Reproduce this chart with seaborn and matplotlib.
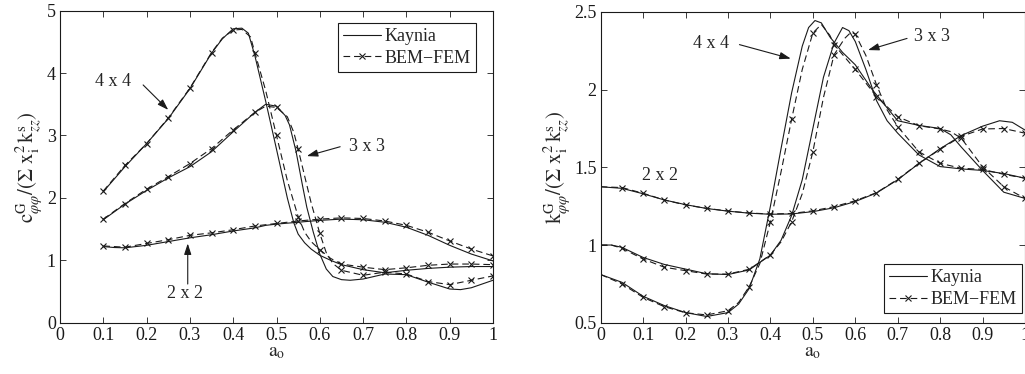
import numpy as np
import pandas as pd
import seaborn as sns
import matplotlib
matplotlib.use("Agg")
import matplotlib.pyplot as plt
from matplotlib.lines import Line2D

# ---------------- data: left panel (damping) ----------------
L4k_x = [0.10, 0.15, 0.20, 0.25, 0.30, 0.35, 0.375, 0.40, 0.42, 0.435, 0.45, 0.475, 0.50, 0.525, 0.54, 0.55, 0.565, 0.58, 0.60, 0.625, 0.65, 0.70, 0.75, 0.80, 0.85, 0.90, 0.95, 1.00]
L4k_y = [2.10, 2.50, 2.87, 3.27, 3.75, 4.32, 4.55, 4.71, 4.72, 4.64, 4.28, 3.55, 2.78, 2.00, 1.60, 1.42, 1.28, 1.18, 1.08, 1.00, 0.93, 0.85, 0.80, 0.84, 0.87, 0.89, 0.90, 0.90]
L4b_x = [0.10, 0.15, 0.20, 0.25, 0.30, 0.35, 0.375, 0.40, 0.42, 0.44, 0.45, 0.475, 0.50, 0.525, 0.55, 0.565, 0.58, 0.60, 0.625, 0.65, 0.70, 0.75, 0.80, 0.85, 0.90, 0.95, 1.00]
L4b_y = [2.11, 2.52, 2.87, 3.28, 3.76, 4.33, 4.56, 4.69, 4.70, 4.58, 4.33, 3.72, 3.00, 2.28, 1.70, 1.45, 1.30, 1.17, 1.03, 0.94, 0.89, 0.85, 0.88, 0.92, 0.94, 0.94, 0.93]

L3k_x = [0.10, 0.15, 0.20, 0.25, 0.30, 0.35, 0.40, 0.45, 0.475, 0.50, 0.52, 0.53, 0.545, 0.56, 0.57, 0.585, 0.60, 0.615, 0.63, 0.65, 0.67, 0.70, 0.75, 0.80, 0.85, 0.90, 0.925, 0.95, 1.00]
L3k_y = [1.65, 1.90, 2.12, 2.32, 2.50, 2.74, 3.06, 3.37, 3.50, 3.47, 3.32, 3.17, 2.75, 2.20, 1.85, 1.45, 1.10, 0.86, 0.74, 0.69, 0.68, 0.70, 0.78, 0.77, 0.65, 0.54, 0.53, 0.56, 0.68]
L3b_x = [0.10, 0.15, 0.20, 0.25, 0.30, 0.35, 0.40, 0.45, 0.475, 0.50, 0.525, 0.54, 0.55, 0.565, 0.58, 0.60, 0.615, 0.63, 0.65, 0.70, 0.75, 0.80, 0.85, 0.90, 0.95, 1.00]
L3b_y = [1.66, 1.91, 2.14, 2.34, 2.55, 2.79, 3.09, 3.37, 3.47, 3.45, 3.30, 3.05, 2.78, 2.35, 1.92, 1.43, 1.12, 0.95, 0.84, 0.76, 0.81, 0.78, 0.66, 0.61, 0.68, 0.75]

L2k_x = [0.10, 0.125, 0.15, 0.20, 0.25, 0.30, 0.35, 0.40, 0.45, 0.475, 0.50, 0.55, 0.60, 0.65, 0.70, 0.75, 0.80, 0.85, 0.90, 0.95, 1.00]
L2k_y = [1.22, 1.205, 1.20, 1.24, 1.30, 1.36, 1.41, 1.47, 1.52, 1.56, 1.58, 1.61, 1.64, 1.66, 1.65, 1.61, 1.53, 1.40, 1.24, 1.10, 0.99]
L2b_x = [0.10, 0.15, 0.20, 0.25, 0.30, 0.35, 0.40, 0.45, 0.50, 0.55, 0.60, 0.65, 0.70, 0.75, 0.80, 0.85, 0.90, 0.95, 1.00]
L2b_y = [1.23, 1.21, 1.27, 1.33, 1.40, 1.44, 1.49, 1.55, 1.59, 1.63, 1.66, 1.68, 1.67, 1.63, 1.56, 1.45, 1.31, 1.18, 1.07]

# ---------------- data: right panel (stiffness) ----------------
R4k_x = [0.0, 0.05, 0.10, 0.15, 0.20, 0.25, 0.30, 0.325, 0.35, 0.375, 0.40, 0.425, 0.45, 0.475, 0.49, 0.505, 0.52, 0.54, 0.57, 0.60, 0.64, 0.70, 0.75, 0.80, 0.825, 0.85, 0.90, 0.95, 1.00]
R4k_y = [0.81, 0.76, 0.67, 0.61, 0.565, 0.54, 0.565, 0.62, 0.72, 0.91, 1.25, 1.62, 1.98, 2.28, 2.40, 2.445, 2.43, 2.34, 2.24, 2.16, 2.00, 1.80, 1.77, 1.75, 1.71, 1.63, 1.48, 1.34, 1.30]
R4b_x = [0.0, 0.05, 0.10, 0.15, 0.20, 0.25, 0.30, 0.325, 0.35, 0.375, 0.40, 0.425, 0.45, 0.475, 0.50, 0.52, 0.54, 0.55, 0.60, 0.65, 0.70, 0.75, 0.80, 0.825, 0.85, 0.90, 0.95, 1.00]
R4b_y = [0.81, 0.75, 0.663, 0.603, 0.564, 0.55, 0.577, 0.63, 0.732, 0.88, 1.15, 1.47, 1.81, 2.13, 2.365, 2.42, 2.35, 2.29, 2.13, 1.955, 1.826, 1.768, 1.747, 1.73, 1.687, 1.504, 1.375, 1.30]

R3k_x = [0.0, 0.025, 0.05, 0.10, 0.15, 0.20, 0.25, 0.30, 0.35, 0.40, 0.425, 0.45, 0.475, 0.50, 0.525, 0.55, 0.57, 0.585, 0.60, 0.625, 0.65, 0.675, 0.70, 0.725, 0.75, 0.80, 0.85, 0.90, 0.95, 1.00]
R3k_y = [1.0, 1.0, 0.985, 0.92, 0.875, 0.845, 0.815, 0.81, 0.84, 0.935, 1.03, 1.19, 1.42, 1.75, 2.08, 2.30, 2.40, 2.38, 2.31, 2.13, 1.93, 1.80, 1.72, 1.65, 1.58, 1.505, 1.49, 1.48, 1.46, 1.43]
R3b_x = [0.0, 0.025, 0.05, 0.10, 0.15, 0.20, 0.25, 0.30, 0.35, 0.40, 0.425, 0.45, 0.475, 0.50, 0.525, 0.55, 0.575, 0.59, 0.60, 0.625, 0.65, 0.675, 0.70, 0.75, 0.80, 0.85, 0.90, 0.95, 1.00]
R3b_y = [1.0, 1.0, 0.979, 0.91, 0.857, 0.835, 0.813, 0.813, 0.844, 0.936, 1.02, 1.15, 1.33, 1.60, 1.95, 2.225, 2.33, 2.37, 2.358, 2.22, 2.032, 1.87, 1.762, 1.60, 1.526, 1.494, 1.487, 1.455, 1.43]

R2k_x = [0.0, 0.05, 0.10, 0.15, 0.20, 0.25, 0.30, 0.35, 0.40, 0.45, 0.50, 0.55, 0.60, 0.65, 0.70, 0.75, 0.80, 0.85, 0.90, 0.94, 0.97, 1.00]
R2k_y = [1.375, 1.365, 1.33, 1.29, 1.26, 1.235, 1.218, 1.205, 1.198, 1.20, 1.215, 1.24, 1.28, 1.335, 1.42, 1.525, 1.62, 1.705, 1.765, 1.80, 1.79, 1.74]
R2b_x = [0.0, 0.05, 0.10, 0.15, 0.20, 0.25, 0.30, 0.35, 0.40, 0.45, 0.50, 0.55, 0.60, 0.65, 0.70, 0.75, 0.80, 0.85, 0.90, 0.95, 1.00]
R2b_y = [1.375, 1.37, 1.333, 1.29, 1.258, 1.236, 1.219, 1.206, 1.20, 1.203, 1.22, 1.247, 1.285, 1.337, 1.423, 1.526, 1.616, 1.70, 1.747, 1.75, 1.72]

x_ticks = [0, 0.1, 0.2, 0.3, 0.4, 0.5, 0.6, 0.7, 0.8, 0.9, 1]
x_tick_labels = ["0", "0.1", "0.2", "0.3", "0.4", "0.5", "0.6", "0.7", "0.8", "0.9", "1"]
left_y_ticks = [0, 1, 2, 3, 4, 5]
left_y_labels = ["0", "1", "2", "3", "4", "5"]
right_y_ticks = [0.5, 1, 1.5, 2, 2.5]
right_y_labels = ["0.5", "1", "1.5", "2", "2.5"]
series_labels = ["Kaynia", "BEM\u2212FEM"]
left_ylabel = r"$\mathrm{c}^{\mathrm{G}}_{\varphi\varphi}/(\Sigma\ \mathrm{x}^{2}_{\mathrm{i}}\,\mathrm{k}^{\mathrm{s}}_{zz})$"
right_ylabel = r"$\mathrm{k}^{\mathrm{G}}_{\varphi\varphi}/(\Sigma\ \mathrm{x}^{2}_{\mathrm{i}}\,\mathrm{k}^{\mathrm{s}}_{zz})$"
xlabel = r"$\mathrm{a}_{\mathrm{o}}$"

# ---------------- style ----------------
sns.set_theme(style="white")
plt.rcParams["font.family"] = ["Liberation Serif", "DejaVu Serif"]
plt.rcParams["mathtext.fontset"] = "stix"
FS = 13
LW = 0.8
DASH = (0, (6, 3.5))

fig = plt.figure(figsize=(10.25, 3.74), dpi=100)
axL = fig.add_axes([60 / 1025, 1 - 322.7 / 374, 433 / 1025, 312 / 374])
axR = fig.add_axes([600.7 / 1025, 1 - 322.7 / 374, 424.3 / 1025, 310.7 / 374])


def draw_solid(ax, x, y):
    sns.lineplot(x=x, y=y, ax=ax, color="k", lw=LW, estimator=None, sort=False)


def draw_dashed(ax, x, y):
    xs = np.asarray(x)
    idx = [i for i, v in enumerate(xs) if abs(v * 20 - round(v * 20)) < 1e-6 and v > 1e-9]
    sns.lineplot(x=x, y=y, ax=ax, color="k", lw=LW, linestyle=DASH, estimator=None, sort=False,
                 marker="x", markevery=idx, markersize=4.5, markeredgecolor="k", markeredgewidth=0.8)


for xk, yk, xb, yb in [(L4k_x, L4k_y, L4b_x, L4b_y), (L3k_x, L3k_y, L3b_x, L3b_y), (L2k_x, L2k_y, L2b_x, L2b_y)]:
    draw_solid(axL, xk, yk)
    draw_dashed(axL, xb, yb)

for xk, yk, xb, yb in [(R4k_x, R4k_y, R4b_x, R4b_y), (R3k_x, R3k_y, R3b_x, R3b_y), (R2k_x, R2k_y, R2b_x, R2b_y)]:
    draw_solid(axR, xk, yk)
    draw_dashed(axR, xb, yb)

for ax, yt, yl, ylim, ylab in [(axL, left_y_ticks, left_y_labels, (0, 5), left_ylabel),
                               (axR, right_y_ticks, right_y_labels, (0.5, 2.5), right_ylabel)]:
    ax.set_xlim(0, 1)
    ax.set_ylim(*ylim)
    ax.set_xticks(x_ticks)
    ax.set_xticklabels(x_tick_labels, fontsize=FS)
    ax.set_yticks(yt)
    ax.set_yticklabels(yl, fontsize=FS)
    ax.tick_params(direction="in", length=4, width=0.6, top=True, right=True, bottom=True, left=True,
                   colors="k", pad=3)
    for s in ax.spines.values():
        s.set_visible(True)
        s.set_color("k")
        s.set_linewidth(0.8)
    ax.set_xlabel(xlabel, fontsize=FS + 1, labelpad=0)
    ax.set_ylabel(ylab, fontsize=FS + 2, labelpad=1)

arrow_kw = dict(arrowstyle="-|>,head_length=0.55,head_width=0.18", lw=0.8, color="k", shrinkA=0, shrinkB=0)

# left annotations
axL.text(0.122, 3.86, "4 x 4", fontsize=FS, ha="center", va="center")
axL.annotate("", xy=(0.25, 3.41), xytext=(0.192, 3.81), arrowprops=arrow_kw)
axL.text(0.708, 2.82, "3 x 3", fontsize=FS, ha="center", va="center")
axL.annotate("", xy=(0.57, 2.67), xytext=(0.647, 2.82), arrowprops=arrow_kw)
axL.text(0.289, 0.47, "2 x 2", fontsize=FS, ha="center", va="center")
axL.annotate("", xy=(0.295, 1.27), xytext=(0.295, 0.62), arrowprops=arrow_kw)

# right annotations
axR.text(0.26, 2.30, "4 x 4", fontsize=FS, ha="center", va="center")
axR.annotate("", xy=(0.448, 2.20), xytext=(0.327, 2.29), arrowprops=arrow_kw)
axR.text(0.78, 2.34, "3 x 3", fontsize=FS, ha="center", va="center")
axR.annotate("", xy=(0.63, 2.255), xytext=(0.722, 2.33), arrowprops=arrow_kw)
axR.text(0.139, 1.45, "2 x 2", fontsize=FS, ha="center", va="center")

handles = [Line2D([], [], color="k", lw=LW),
           Line2D([], [], color="k", lw=LW, linestyle=DASH, marker="x", markersize=4.5, markeredgewidth=0.8)]
leg_kw = dict(fontsize=FS, frameon=True, fancybox=False, edgecolor="k", framealpha=1, borderaxespad=0,
              handlelength=2.1, handletextpad=0.2, borderpad=0.3, labelspacing=0.25, numpoints=1)
lgL = axL.legend(handles, series_labels, loc="upper right", bbox_to_anchor=(0.961, 0.961), **leg_kw)
lgR = axR.legend(handles, series_labels, loc="lower right", bbox_to_anchor=(0.993, 0.03), **leg_kw)
for lg in (lgL, lgR):
    lg.get_frame().set_linewidth(0.8)

fig.savefig("out.png", dpi=100)
